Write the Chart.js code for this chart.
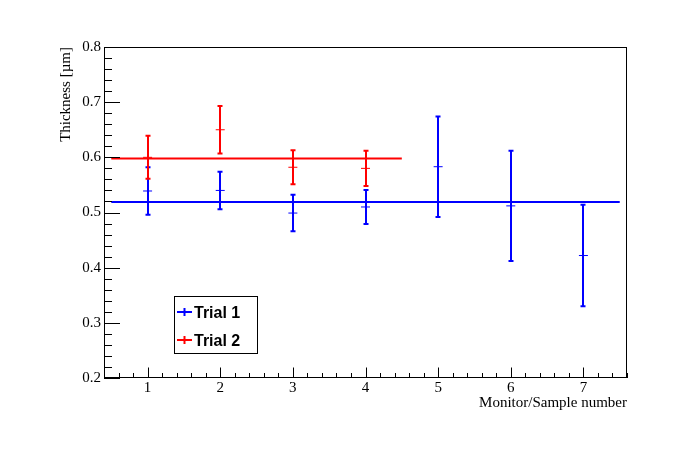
<!DOCTYPE html>
<html>
<head>
<meta charset="utf-8">
<script src="https://cdn.jsdelivr.net/npm/chart.js@4/dist/chart.umd.min.js"></script>
<style>
  html, body { margin: 0; padding: 0; background: #fff; }
  canvas { display: block; background: #fff; }
</style>
</head>
<body>
<canvas id="chart" width="696" height="472"></canvas>
<script>
// values
const seriesLabels = ['Trial 1', 'Trial 2']
const seriesColors = ['#0000ff', '#ff0000']

const samples1 = [1, 2, 3, 4, 5, 6, 7]
const thickness1 = [0.539, 0.540, 0.499, 0.510, 0.583, 0.512, 0.422]
const errors1 = [0.043, 0.034, 0.033, 0.031, 0.091, 0.100, 0.092]

const samples2 = [1, 2, 3, 4]
const thickness2 = [0.600, 0.650, 0.582, 0.580]
const errors2 = [0.039, 0.043, 0.031, 0.032]

const fitValue1 = 0.519
const fitRange1 = [0.5, 7.5]
const fitValue2 = 0.598
const fitRange2 = [0.5, 4.5]

const xTicks = [1, 2, 3, 4, 5, 6, 7]
const xTickLabels = ['1', '2', '3', '4', '5', '6', '7']
const yTicks = [0.2, 0.3, 0.4, 0.5, 0.6, 0.7, 0.8]
const yTickLabels = ['0.2', '0.3', '0.4', '0.5', '0.6', '0.7', '0.8']

const serif = '"Liberation Serif", "Times New Roman", serif'
const sans = '"Liberation Sans", Arial, sans-serif'

const toPoints = (xs, ys) => xs.map((x, i) => ({ x, y: ys[i] }))
const fitLine = (range, v) => range.map(x => ({ x, y: v }))

const errorSets = [
  { xs: samples1, ys: thickness1, errs: errors1, color: seriesColors[0] },
  { xs: samples2, ys: thickness2, errs: errors2, color: seriesColors[1] }
]

// ROOT-like frame, inward ticks, error bars and legend
const rootStyle = {
  id: 'rootStyle',
  beforeDatasetsDraw(chart) {
    const { ctx, scales: { x, y } } = chart
    ctx.save()
    ctx.lineWidth = 2
    errorSets.forEach(s => {
      ctx.strokeStyle = s.color
      s.xs.forEach((xv, i) => {
        const px = Math.round(x.getPixelForValue(xv))
        const top = y.getPixelForValue(s.ys[i] + s.errs[i])
        const bot = y.getPixelForValue(s.ys[i] - s.errs[i])
        ctx.beginPath()
        ctx.moveTo(px, top)
        ctx.lineTo(px, bot)
        ctx.moveTo(px - 2.5, top)
        ctx.lineTo(px + 2.5, top)
        ctx.moveTo(px - 2.5, bot)
        ctx.lineTo(px + 2.5, bot)
        ctx.stroke()
      })
    })
    ctx.restore()
  },
  afterDraw(chart) {
    const { ctx, chartArea: a, scales: { x, y } } = chart
    ctx.save()
    ctx.strokeStyle = '#000'
    ctx.lineWidth = 1
    ctx.strokeRect(a.left + 0.5, a.top + 0.5, a.right - a.left - 1, a.bottom - a.top - 1)

    ctx.beginPath()
    // x ticks: major every 1, minor every 0.2
    for (let k = 2; k <= 38; k++) {
      const v = k / 5
      const px = Math.round(x.getPixelForValue(v)) + 0.5
      const len = k % 5 === 0 ? 10.5 : 5
      ctx.moveTo(px, a.bottom)
      ctx.lineTo(px, a.bottom - len)
    }
    // y ticks: major every 0.1, minor every 0.02
    for (let k = 10; k <= 40; k++) {
      const v = k / 50
      const py = Math.round(y.getPixelForValue(v)) + 0.5
      const len = k % 5 === 0 ? 16 : 8
      ctx.moveTo(a.left, py)
      ctx.lineTo(a.left + len, py)
    }
    ctx.stroke()

    // legend
    const lx = 174.5, ly = 296.5, lw = 83, lh = 57
    ctx.fillStyle = '#fff'
    ctx.fillRect(lx, ly, lw, lh)
    ctx.strokeRect(lx, ly, lw, lh)
    ctx.font = 'bold 16px ' + sans
    ctx.textBaseline = 'alphabetic'
    ctx.textAlign = 'left'
    seriesLabels.forEach((label, i) => {
      const cy = 312 + i * 28
      ctx.strokeStyle = seriesColors[i]
      ctx.lineWidth = 2
      ctx.beginPath()
      ctx.moveTo(177, cy)
      ctx.lineTo(192, cy)
      ctx.moveTo(184.5, cy - 4)
      ctx.lineTo(184.5, cy + 4)
      ctx.stroke()
      ctx.fillStyle = '#000'
      ctx.fillText(label, 194, cy + 5.5)
    })
    ctx.restore()
  }
}

new Chart(document.getElementById('chart'), {
  type: 'scatter',
  data: {
    datasets: [
      {
        label: seriesLabels[0],
        data: toPoints(samples1, thickness1),
        borderColor: seriesColors[0],
        backgroundColor: seriesColors[0],
        pointStyle: 'line',
        pointRadius: 4.5,
        borderWidth: 1,
        showLine: false
      },
      {
        label: seriesLabels[1],
        data: toPoints(samples2, thickness2),
        borderColor: seriesColors[1],
        backgroundColor: seriesColors[1],
        pointStyle: 'line',
        pointRadius: 4.5,
        borderWidth: 1,
        showLine: false
      },
      {
        label: 'fit 1',
        data: fitLine(fitRange1, fitValue1),
        borderColor: seriesColors[0],
        borderWidth: 2,
        pointRadius: 0,
        showLine: true
      },
      {
        label: 'fit 2',
        data: fitLine(fitRange2, fitValue2),
        borderColor: seriesColors[1],
        borderWidth: 2,
        pointRadius: 0,
        showLine: true
      }
    ]
  },
  options: {
    responsive: false,
    animation: false,
    devicePixelRatio: 1,
    layout: { padding: { left: 0, top: 47, right: 69, bottom: 0 } },
    plugins: {
      legend: { display: false },
      tooltip: { enabled: false }
    },
    scales: {
      x: {
        type: 'linear',
        min: 0.4,
        max: 7.6,
        afterBuildTicks: s => { s.ticks = xTicks.map(v => ({ value: v })) },
        afterFit: s => { s.height = 94 },
        grid: { display: false, drawTicks: false },
        border: { display: false },
        ticks: {
          autoSkip: false,
          maxRotation: 0,
          padding: 1,
          color: '#000',
          font: { family: serif, size: 15 },
          callback: (v, i) => xTickLabels[i]
        },
        title: {
          display: true,
          text: 'Monitor/Sample number',
          align: 'end',
          color: '#000',
          font: { family: serif, size: 15 },
          padding: { top: 0, bottom: 60 }
        }
      },
      y: {
        min: 0.2,
        max: 0.8,
        afterBuildTicks: s => { s.ticks = yTicks.map(v => ({ value: v })) },
        afterFit: s => { s.width = 104 },
        grid: { display: false, drawTicks: false },
        border: { display: false },
        ticks: {
          autoSkip: false,
          padding: 3,
          color: '#000',
          font: { family: serif, size: 15 },
          callback: (v, i) => yTickLabels[i]
        },
        title: {
          display: true,
          text: 'Thickness [µm]',
          align: 'end',
          color: '#000',
          font: { family: serif, size: 15 },
          padding: { top: 57, bottom: 0 }
        }
      }
    }
  },
  plugins: [rootStyle]
})
</script>
</body>
</html>
